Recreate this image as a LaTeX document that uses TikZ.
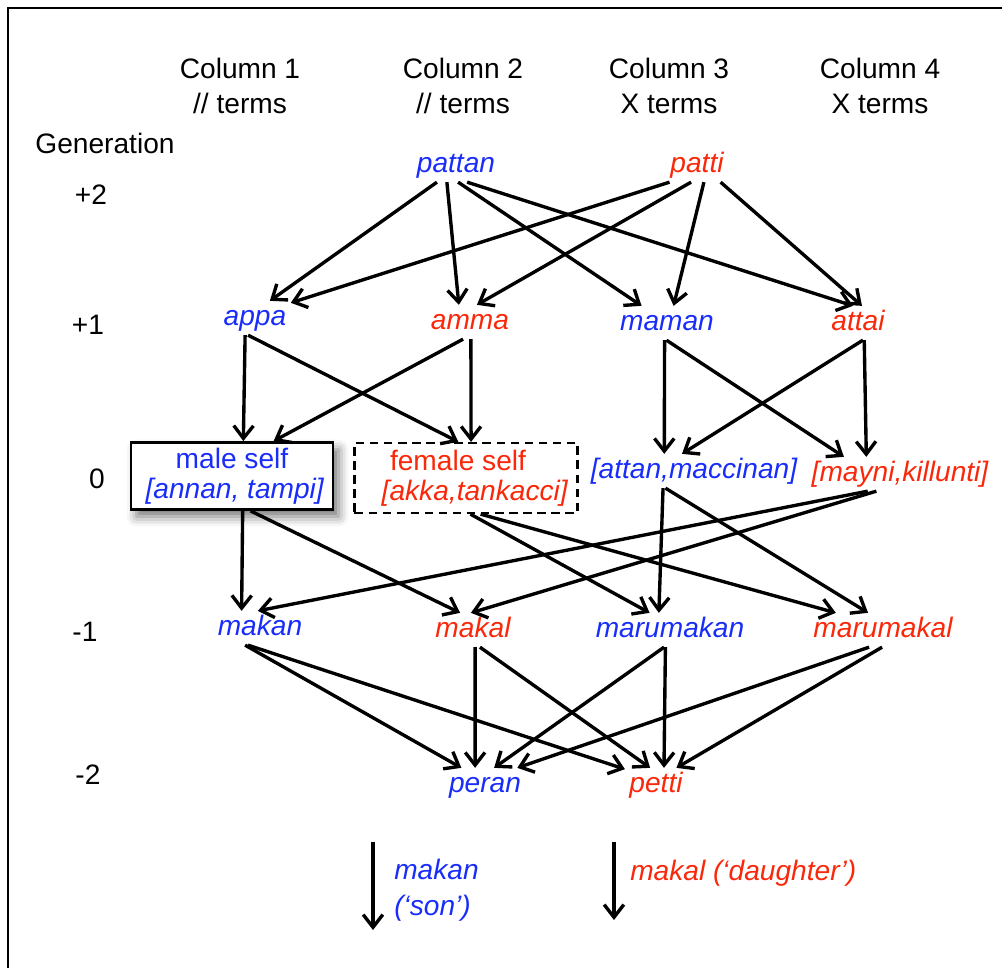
\documentclass[tikz,border=0pt]{standalone}
\usepackage{fontspec}
\setmainfont{Liberation Sans}
\usetikzlibrary{arrows.meta,shadows.blur}
\definecolor{maleColor}{RGB}{25,45,250}
\definecolor{femaleColor}{RGB}{250,40,10}
\tikzstyle{pixels} = [x = 0.025cm, y = -0.025cm]
\tikzstyle{labelText} = [font=\fontsize{20}{25}\selectfont, align=center, inner sep=0pt]
\tikzstyle{termStyle} = [font=\fontsize{20}{24}\selectfont\itshape, text height=14pt, text depth=4pt, inner sep=3pt]
\tikzstyle{maleTerm} = [termStyle, text=maleColor]
\tikzstyle{femaleTerm} = [termStyle, text=femaleColor]
\tikzstyle{selfBox} = [draw, fill=white, align=center, inner sep=0pt, font=\fontsize{20}{23}\selectfont]
\tikzstyle{kinArrowStyle} = [line width=2.4pt, -{Straight Barb[length=9pt, width=14pt]}]
\newcommand{\kinArrow}[2]{\draw [kinArrowStyle] (#1) -- (#2);}

\begin{document}
\begin{tikzpicture}[pixels]
  \useasboundingbox (0,0) rectangle (1002,968);
  \draw [line width=1.8pt] (8,1000) -- (8,8) -- (1040,8);

  % headers
  \node [labelText] (colOne) at (240,86) {Column 1\\// terms};
  \node [labelText] (colTwo) at (463,86) {Column 2\\// terms};
  \node [labelText] (colThree) at (669,86) {Column 3\\X terms};
  \node [labelText] (colFour) at (880,86) {Column 4\\X terms};
  \node [labelText] (genTitle) at (105,143) {Generation};
  \foreach \gen/\xpos/\ypos/\genName in {+2/91/195/genA, +1/88/325/genB, 0/97/479/genC, -1/85/632/genD, -2/88/775/genE} {
    \node [labelText] (\genName) at (\xpos,\ypos) {\gen};
  }

  % terms
  \node [maleTerm] (pattan) at (456,165) {pattan};
  \node [femaleTerm] (patti) at (697,165) {patti};
  \node [maleTerm] (appa) at (255,318) {appa};
  \node [femaleTerm] (amma) at (470,322) {amma};
  \node [maleTerm] (maman) at (667,323) {maman};
  \node [femaleTerm] (attai) at (858,323) {attai};
  \node [selfBox, text=maleColor, line width=2pt, minimum width=5.05cm, minimum height=1.675cm,
         blur shadow={shadow xshift=4pt, shadow yshift=-5pt, shadow blur radius=7pt, shadow opacity=55}]
        (maleSelf) at (232,476) {\raisebox{-2pt}{male self}\\\hspace*{0.15cm}\textit{[annan, tampi]}};
  \node [selfBox, text=femaleColor, line width=1.6pt, dash pattern=on 6pt off 4pt,
         minimum width=5.575cm, minimum height=1.75cm]
        (femaleSelf) at (466,478) {\raisebox{-2pt}{female self}\hspace*{0.4cm}\\\hspace*{0.45cm}\textit{[akka,tankacci]}};
  \node [maleTerm] (attanMaccinan) at (694,471) {[attan,maccinan]};
  \node [femaleTerm] (mayniKillunti) at (900,474) {[mayni,killunti]};
  \node [maleTerm] (makan) at (260,628) {makan};
  \node [femaleTerm] (makal) at (473,630) {makal};
  \node [maleTerm] (marumakan) at (670,630) {marumakan};
  \node [femaleTerm] (marumakal) at (883,630) {marumakal};
  \node [maleTerm] (peran) at (485,785) {peran};
  \node [femaleTerm] (petti) at (656,785) {petti};

  % descent lines
  \foreach \from/\to in {pattan.-138/appa.49, pattan.-118/amma.123, pattan.-83/maman.146, pattan.-57/attai.106,
      patti.-148/appa.23, patti.-109/amma.68, patti.-68/maman.69, patti.-36/attai.77,
      appa.-120/maleSelf.72, appa.-112/femaleSelf.102, amma.-112/maleSelf.40, amma.-87/femaleSelf.82,
      maman.-98/attanMaccinan.150, maman.-92/mayniKillunti.163, attai.-74/attanMaccinan.125, attai.-70/mayniKillunti.153,
      maleSelf.-73/makan.137, maleSelf.-62/makal.127, femaleSelf.-83/marumakan.140, femaleSelf.-68/marumakal.160,
      attanMaccinan.-151/marumakan.123, attanMaccinan.-149/marumakal.131, mayniKillunti.-152/makan.97, mayniKillunti.-144/makal.97,
      makan.-131/peran.144, makan.-125/petti.153, makal.-83/peran.120, makal.-68/petti.109,
      marumakan.-109/peran.62, marumakan.-105/petti.65, marumakal.-129/peran.28, marumakal.-93/petti.40} {
    \kinArrow{\from}{\to}
  }

  % key
  \coordinate (sonStart) at (373,842);
  \coordinate (sonEnd) at (373,930);
  \coordinate (daughterStart) at (614,842);
  \coordinate (daughterEnd) at (614,920);
  \kinArrow{sonStart}{sonEnd}
  \kinArrow{daughterStart}{daughterEnd}
  \node [maleTerm, anchor=west, inner sep=0pt] (sonTerm) at (394,872) {makan};
  \node [maleTerm, anchor=west, inner sep=0pt] (sonGloss) at (394,908) {(‘son’)};
  \node [femaleTerm, anchor=west, inner sep=0pt] (daughterTerm) at (630,873) {makal (‘daughter’)};
\end{tikzpicture}
\end{document}
